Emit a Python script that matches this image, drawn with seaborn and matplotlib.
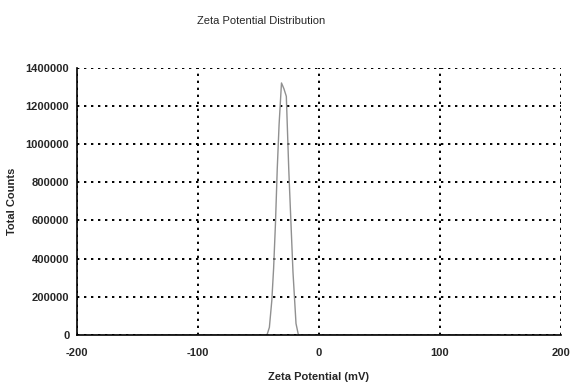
import pandas as pd
import seaborn as sns
import matplotlib.pyplot as plt
from matplotlib.ticker import MultipleLocator

zeta = [-150, -43, -41, -39, -37.5, -36, -34.5, -33, -31, -29, -27,
        -25, -23, -21.5, -19, -17, 150]
counts = [0, 0, 40000, 180000, 350000, 580000, 870000, 1100000, 1320000,
          1290000, 1250000, 870000, 560000, 330000, 60000, 0, 0]
x_ticks = [-200, -100, 0, 100, 200]
y_ticks = [0, 200000, 400000, 600000, 800000, 1000000, 1200000, 1400000]

df = pd.DataFrame({'Zeta Potential (mV)': zeta, 'Total Counts': counts})

sns.set_style('white')
plt.rcParams['font.family'] = ['Liberation Sans Narrow', 'Liberation Sans', 'DejaVu Sans']

fig = plt.figure(figsize=(5.73, 3.89), dpi=100)
ax = fig.add_axes([0.1344, 0.1388, 0.8446, 0.6872])

sns.lineplot(data=df, x='Zeta Potential (mV)', y='Total Counts', color='#909090',
             linewidth=1.0, ax=ax)

ax.set_xlim(-200, 200)
ax.set_ylim(0, 1400000)
ax.set_xticks(x_ticks)
ax.set_yticks(y_ticks)
ax.set_xticklabels([str(t) for t in x_ticks], fontsize=8, fontweight='bold')
ax.set_yticklabels([str(t) for t in y_ticks], fontsize=8, fontweight='bold')
ax.xaxis.set_minor_locator(MultipleLocator(50))
ax.yaxis.set_minor_locator(MultipleLocator(100000))
ax.tick_params(which='both', direction='inout', length=7, width=1, color='black')
ax.tick_params(which='minor', length=6)
ax.tick_params(axis='x', pad=6)
ax.tick_params(axis='y', pad=2)

ax.grid(True, which='major', linestyle=(0, (1.2, 2.4)), color='black', linewidth=1.4)
for side in ['top', 'right']:
    ax.spines[side].set_visible(False)
for side in ['left', 'bottom']:
    ax.spines[side].set_color('black')
    ax.spines[side].set_linewidth(1.2)
ax.set_axisbelow(True)

ax.set_xlabel('Zeta Potential (mV)', fontsize=8, fontweight='bold', labelpad=10)
ax.set_ylabel('Total Counts', fontsize=8, fontweight='bold', labelpad=6)
fig.suptitle('Zeta Potential Distribution', fontsize=8, x=0.456, y=0.96)

fig.savefig('out.png', dpi=100)
